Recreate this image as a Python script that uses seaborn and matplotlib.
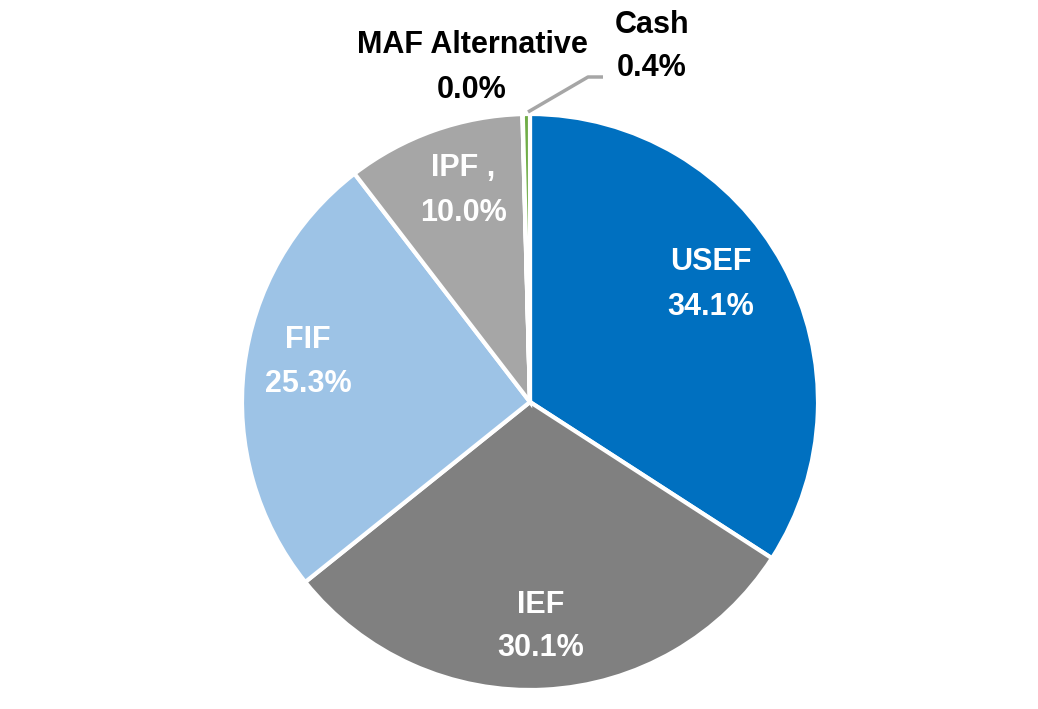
import matplotlib
matplotlib.use("Agg")
import matplotlib.pyplot as plt
import seaborn as sns

categories = ["USEF", "IEF", "FIF", "IPF ,", "MAF Alternative", "Cash"]
values = [34.1, 30.1, 25.3, 10.0, 0.02, 0.4]
labels_pct = ["34.1%", "30.1%", "25.3%", "10.0%", "0.0%", "0.4%"]
colors = ["#0070C0", "#808080", "#9DC3E6", "#A6A6A6", "#ED7D31", "#70AD47"]

sns.set_theme(style="white")
plt.rcParams['font.family'] = ['Liberation Sans', 'DejaVu Sans']

W, H = 1038, 709
fig = plt.figure(figsize=(W / 100, H / 100), dpi=100)
ax = fig.add_axes([0, 0, 1, 1])

cx, cy, r = 530, H - 402, 288
wedges, _ = ax.pie(values, colors=colors, startangle=90, counterclock=False,
                   center=(cx, cy), radius=r,
                   wedgeprops=dict(edgecolor="white", linewidth=3))
ax.set_xlim(0, W)
ax.set_ylim(0, H)
ax.set_aspect("equal")
ax.axis("off")

fs = 22
# label placement: (center x, baseline of name, baseline of percent) in pixels
place = {
    0: (711, 270, 315),
    1: (541, 613, 656),
    2: (308, 348, 392),
    3: (463, 176, 221),
    4: (472, 53, 98),
    5: (652, 33, 76),
}
for i, (px, b1, b2) in place.items():
    col = "white" if i < 4 else "black"
    ax.text(px, H - b1, categories[i], color=col, fontsize=fs,
            fontweight="bold", ha="center", va="baseline")
    ax.text(px, H - b2, labels_pct[i], color=col, fontsize=fs,
            fontweight="bold", ha="center", va="baseline")

# leader line for Cash
ax.plot([528, 588, 603], [H - 112, H - 77, H - 77], color="#A6A6A6", lw=2.5,
        solid_capstyle="butt")

fig.savefig("out.png", dpi=100)
